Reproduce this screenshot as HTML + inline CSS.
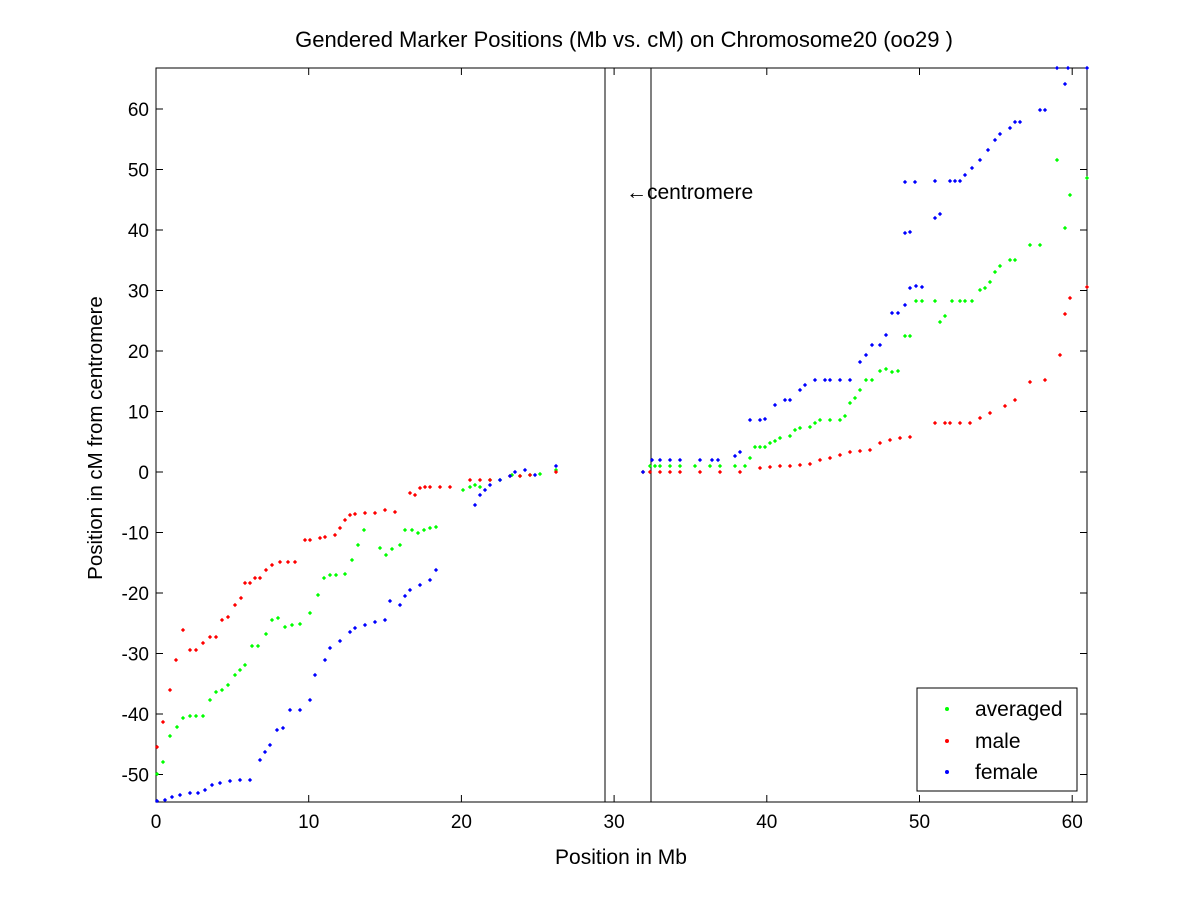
<!DOCTYPE html>
<html><head><meta charset="utf-8"><style>
html,body{margin:0;padding:0;background:#fff;}
svg{display:block;font-family:"Liberation Sans",sans-serif;}
</style></head><body>
<svg id="s" width="1200" height="900" viewBox="0 0 1200 900" xmlns="http://www.w3.org/2000/svg">
<rect width="1200" height="900" fill="#fff"/>
<text x="624" y="47" font-size="22" text-anchor="middle">Gendered Marker Positions (Mb vs. cM) on Chromosome20 (oo29 )</text>
<rect x="156" y="68" width="931" height="734" fill="none" stroke="#000" stroke-width="1"/>
<line x1="605" y1="68" x2="605" y2="802" stroke="#000"/>
<line x1="651" y1="68" x2="651" y2="802" stroke="#000"/>
<text x="626" y="199" font-size="21">←centromere</text>
<g id="ticks" font-size="19"></g>
<text x="621" y="864" font-size="21" text-anchor="middle">Position in Mb</text>
<text transform="translate(102,438) rotate(-90)" font-size="20.5" text-anchor="middle">Position in cM from centromere</text>
<g id="pts"></g>
<rect x="917" y="688" width="160" height="103" fill="#fff" stroke="#000"/>
<circle cx="947" cy="709" r="2" fill="#00ff00"/>
<circle cx="947" cy="741" r="2" fill="#ff0000"/>
<circle cx="947" cy="772" r="2" fill="#0000ff"/>
<text x="975" y="716" font-size="21">averaged</text>
<text x="975" y="748" font-size="21">male</text>
<text x="975" y="779" font-size="21">female</text>
</svg>
<script>
var NS="http://www.w3.org/2000/svg",t=document.getElementById("ticks"),g=document.getElementById("pts");
function el(n,a,p,txt){var e=document.createElementNS(NS,n);for(var k in a)e.setAttribute(k,a[k]);if(txt!=null)e.textContent=txt;p.appendChild(e);}
for(var i=0;i<=6;i++){var x=156+i*152.7;
el("line",{x1:x,y1:802,x2:x,y2:795,stroke:"#000"},t);el("line",{x1:x,y1:68,x2:x,y2:75,stroke:"#000"},t);
el("text",{x:x,y:828,"text-anchor":"middle"},t,String(i*10));}
for(var v=-50;v<=60;v+=10){var y=472-v*6.05;
el("line",{x1:156,y1:y,x2:163,y2:y,stroke:"#000"},t);el("line",{x1:1087,y1:y,x2:1080,y2:y,stroke:"#000"},t);
el("text",{x:149,y:y+7,"text-anchor":"end"},t,String(v));}
var G=[[157,774],[163,762],[170,736],[177,727],[183,718],[190,716],[196,716],[203,716],[210,700],[216,692],[222,690],[228,685],[235,675],[240,670],[245,665],[252,646],[258,646],[266,634],[272,620],[278,618],[285,627],[292,625],[300,624],[310,613],[318,595],[324,578],[330,575],[336,575],[345,574],[352,560],[358,545],[364,530],[380,548],[386,555],[392,549],[400,545],[405,530],[412,530],[418,533],[424,530],[430,528],[436,527],[463,490],[470,487],[475,485],[480,487],[490,480],[500,480],[512,475],[520,476],[530,475],[540,474],[556,470],
[643,472],[650,466],[655,466],[660,466],[670,466],[680,466],[695,466],[710,466],[720,466],[735,466],[745,466],[750,458],[755,447],[760,447],[765,447],[770,443],[775,441],[780,438],[790,436],[795,430],[800,428],[810,427],[815,423],[820,420],[830,420],[840,420],[845,416],[850,403],[855,398],[860,390],[866,380],[872,380],[880,371],[886,369],[892,372],[898,371],[905,336],[910,336],[916,301],[922,301],[935,301],[940,322],[945,316],[952,301],[960,301],[965,301],[972,301],[980,290],[985,288],[990,282],[995,272],[1000,266],[1010,260],[1015,260],[1030,245],[1040,245],[1057,160],[1065,228],[1070,195],[1087,178]];
var R=[[157,747],[163,722],[170,690],[176,660],[183,630],[190,650],[196,650],[203,643],[210,637],[216,637],[222,620],[228,617],[235,605],[241,598],[245,583],[250,583],[255,578],[260,578],[266,570],[272,565],[280,562],[288,562],[295,562],[305,540],[310,540],[320,538],[325,537],[335,535],[340,528],[345,520],[350,515],[355,514],[365,513],[375,513],[385,510],[395,512],[410,493],[415,495],[420,488],[425,487],[430,487],[440,487],[450,487],[470,480],[480,480],[490,480],[510,476],[520,476],[530,475],[556,472],
[643,472],[650,472],[660,472],[670,472],[680,472],[700,472],[720,472],[740,472],[760,468],[770,467],[780,466],[790,466],[800,465],[810,464],[820,460],[830,458],[840,455],[850,452],[860,451],[870,450],[880,443],[890,440],[900,438],[910,437],[935,423],[945,423],[950,423],[960,423],[970,423],[980,418],[990,413],[1005,406],[1015,400],[1030,382],[1045,380],[1060,355],[1065,314],[1070,298],[1087,287]];
var B=[[157,801],[165,800],[172,797],[180,795],[190,793],[198,793],[205,790],[212,785],[220,783],[230,781],[240,780],[250,780],[260,760],[265,752],[270,745],[277,730],[283,728],[290,710],[300,710],[310,700],[315,675],[325,660],[330,648],[340,641],[350,632],[355,628],[365,625],[375,622],[385,620],[390,601],[400,605],[405,596],[410,590],[420,585],[430,580],[436,570],[475,505],[480,495],[485,490],[490,485],[500,480],[510,476],[515,472],[525,470],[535,475],[556,466],
[643,472],[652,460],[660,460],[670,460],[680,460],[700,460],[712,460],[718,460],[735,456],[740,452],[750,420],[760,420],[765,419],[775,405],[785,400],[790,400],[800,390],[805,385],[815,380],[825,380],[830,380],[840,380],[850,380],[860,362],[866,355],[872,345],[880,345],[886,335],[892,313],[898,313],[905,305],[910,288],[916,286],[922,287],[905,233],[910,232],[935,218],[940,214],[905,182],[915,182],[935,181],[950,181],[955,181],[960,181],[965,175],[972,168],[980,160],[988,150],[995,140],[1000,134],[1010,128],[1015,122],[1020,122],[1040,110],[1045,110],[1057,68],[1065,84],[1068,68],[1087,68]];
function draw(a,c){a.forEach(function(p){el("rect",{x:p[0]-1.5,y:p[1]-1.5,width:3,height:3,fill:c,transform:"rotate(45 "+p[0]+" "+p[1]+")"},g);});}
draw(G,"#00ff00");draw(R,"#ff0000");draw(B,"#0000ff");
</script>
</body></html>
